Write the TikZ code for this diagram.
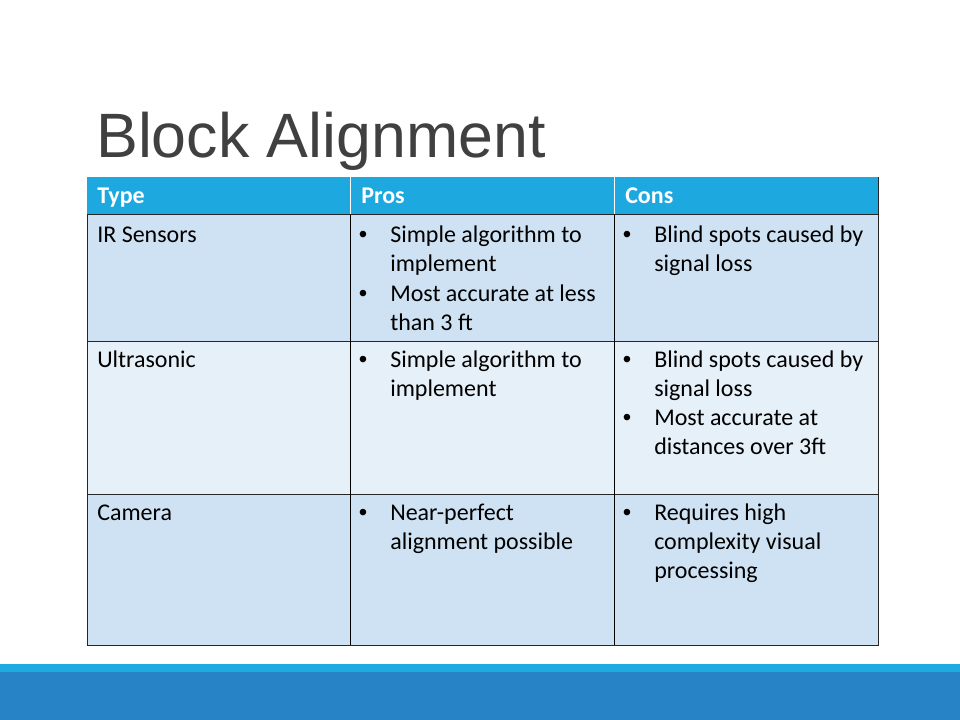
\documentclass[tikz,border=0pt]{standalone}
\usepackage{fontspec}
\setmainfont{Carlito}
\newfontfamily\titlefont{Liberation Sans}
\usepackage{tikz}
\usetikzlibrary{positioning}
\definecolor{hdrblue}{HTML}{1DA9E0}
\definecolor{rowdark}{HTML}{CFE2F3}
\definecolor{rowlight}{HTML}{E6F0F9}
\definecolor{barlight}{HTML}{1EABE2}
\definecolor{bardark}{HTML}{2782C6}
\definecolor{titlegray}{HTML}{404040}
% top aligned cell text, baseline on its first line
\newcommand{\celltext}[1]{\begin{tabular}[t]{@{}l@{}}#1\end{tabular}}

\begin{document}
\begin{tikzpicture}[x=0.75pt,y=-0.75pt,
    txt/.style={anchor=base west,inner sep=0pt,font=\fontsize{18}{21.75}\selectfont},
    hdr/.style={txt,text=white,font=\fontsize{18}{21.75}\selectfont\bfseries},
    bul/.style={anchor=base,inner sep=0pt,font=\titlefont\fontsize{18}{21.75}\selectfont}]
  \useasboundingbox (0,0) rectangle (960,720);
  % title
  \node[anchor=base west,inner sep=0pt,font=\titlefont\fontsize{47}{56}\selectfont,text=titlegray](title) at (96,158){Block Alignment};
  % cell fills
  \fill[hdrblue] (87,177) rectangle (878,215);
  \fill[rowdark] (87,215) rectangle (878,341);
  \fill[rowlight] (87,341) rectangle (878,494);
  \fill[rowdark] (87,494) rectangle (878,645);
  % grid
  \draw[white,line width=0.75pt] (350,177) -- (350,215) (614,177) -- (614,215);
  \draw[black!85,line width=0.75pt] (87,215) -- (878,215) (87,341) -- (878,341) (87,494) -- (878,494);
  \draw[black!85,line width=0.75pt] (87,215) -- (87,645) -- (878,645) -- (878,177);
  \draw[black,line width=0.75pt] (350,215) -- (350,645) (614,215) -- (614,645);
  % header
  \node[hdr](type) at (97,204){Type};
  \node[hdr](pros) at (361,204){Pros};
  \node[hdr](cons) at (625,204){Cons};
  % IR Sensors
  \node[txt](ir) at (97,243){IR Sensors};
  \node[bul](irb1) at (363,243){\textbullet};
  \node[txt](irp1) at (390,243){\celltext{Simple algorithm to\\implement}};
  \node[bul](irb2) at (363,301){\textbullet};
  \node[txt](irp2) at (390,301){\celltext{Most accurate at less\\than 3 ft}};
  \node[bul](irb3) at (627,243){\textbullet};
  \node[txt](irc1) at (654,243){\celltext{Blind spots caused by\\signal loss}};
  % Ultrasonic
  \node[txt](us) at (97,367){Ultrasonic};
  \node[bul](usb1) at (363,367){\textbullet};
  \node[txt](usp1) at (390,367){\celltext{Simple algorithm to\\implement}};
  \node[bul](usb2) at (627,367){\textbullet};
  \node[txt](usc1) at (654,367){\celltext{Blind spots caused by\\signal loss}};
  \node[bul](usb3) at (627,425){\textbullet};
  \node[txt](usc2) at (654,425){\celltext{Most accurate at\\distances over 3ft}};
  % Camera
  \node[txt](cam) at (97,520){Camera};
  \node[bul](camb1) at (363,520){\textbullet};
  \node[txt](camp1) at (390,520){\celltext{Near-perfect\\alignment possible}};
  \node[bul](camb2) at (627,520){\textbullet};
  \node[txt](camc1) at (654,520){\celltext{Requires high\\complexity visual\\processing}};
  % bottom bar
  \fill[barlight] (0,664) rectangle (960,672);
  \fill[bardark] (0,672) rectangle (960,720);
\end{tikzpicture}
\end{document}
